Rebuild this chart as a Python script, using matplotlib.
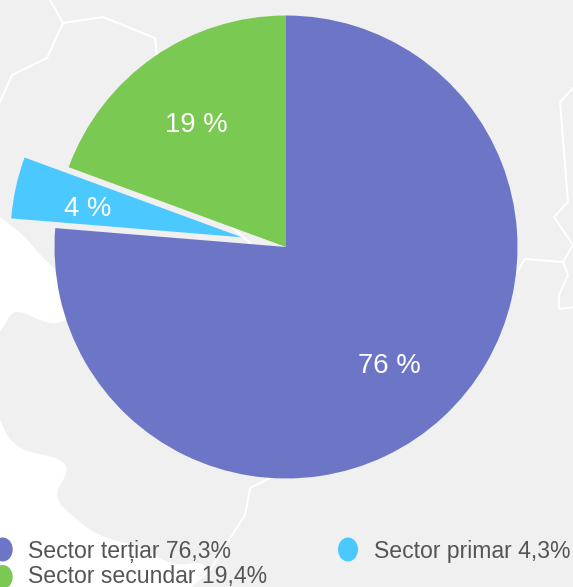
import matplotlib
matplotlib.use('Agg')
import matplotlib.pyplot as plt
from matplotlib.patches import Ellipse, PathPatch
from matplotlib.path import Path

labels = ['Sector terțiar 76,3%', 'Sector primar 4,3%', 'Sector secundar 19,4%']
values = [76.3, 4.3, 19.4]
pct_labels = ['76 %', '4 %', '19 %']
colors = ['#6d76c6', '#4bc9ff', '#7ac952']

W, H = 573, 587
CX, CY, R = 286, 247, 231.5

plt.rcParams['font.family'] = ['Liberation Sans', 'DejaVu Sans']

# background map, in image pixels
coast = [(-8, 211), (12, 226), (25, 237), (36, 250), (50, 265), (75, 285), (90, 300), (75, 316), (62, 322),
         (50, 324), (35, 318), (20, 311), (10, 314), (5, 325), (-6, 340), (-6, 405), (5, 432),
         (12, 442), (27, 452), (60, 458), (70, 470), (52, 497), (77, 520), (100, 537),
         (143, 547), (167, 563), (183, 565), (200, 562), (208, 568)]
borders = [
    [(50, 0), (63, 23), (103, 17), (155, 38), (157, 55)],
    [(63, 23), (47, 58), (12, 75), (0, 102)],
    [(573, 88), (560, 102), (568, 202), (554, 217), (573, 245), (563, 262), (525, 259), (517, 272)],
    [(563, 262), (568, 275), (559, 295), (559, 309), (573, 307)],
    [(270, 478), (250, 488), (245, 515), (210, 570), (190, 587)],
    [(232, 227), (250, 243)],
]


def coast_path(points):
    # smooth the shoreline with quadratic pieces through the midpoints
    verts = [points[0]]
    codes = [Path.MOVETO]
    for a, b in zip(points[:-1], points[1:]):
        verts += [a, ((a[0] + b[0]) / 2, (a[1] + b[1]) / 2)]
        codes += [Path.CURVE3, Path.CURVE3]
    for p in [points[-1], (190, H), (W, H), (W, 0), (-8, 0), points[0]]:
        verts.append(p)
        codes.append(Path.LINETO)
    return Path(verts, codes)


fig = plt.figure(figsize=(W / 100, H / 100), dpi=100)

bg = fig.add_axes([0, 0, 1, 1])
bg.set_xlim(0, W)
bg.set_ylim(H, 0)
bg.axis('off')
bg.add_patch(PathPatch(coast_path(coast), facecolor='#f0f0f0', edgecolor='none'))
for line in borders:
    bg.plot([p[0] for p in line], [p[1] for p in line], color='white', lw=1.4, solid_joinstyle='miter')

ax = fig.add_axes([0, 0, 1, 1], facecolor='none')
wedges, _ = ax.pie(values, colors=colors, startangle=90, counterclock=False,
                   explode=[0, 0.195, 0], radius=1, frame=False)
ax.set_aspect('equal')
ax.set_xlim(-CX / R, (W - CX) / R)
ax.set_ylim((CY - H) / R, CY / R)

# legend and labels go on top, in pixels, so the dots can run off the edge like the original
leg = fig.add_axes([0, 0, 1, 1], facecolor='none')
leg.set_xlim(0, W)
leg.set_ylim(H, 0)
leg.axis('off')
leg.text(389.5, 373, pct_labels[0], color='white', fontsize=19.8, ha='center', va='baseline')
leg.text(88, 216, pct_labels[1], color='white', fontsize=19.8, ha='center', va='baseline')
leg.text(196.5, 132.5, pct_labels[2], color='white', fontsize=19.8, ha='center', va='baseline')

for (x, y, tx, base), lab, c in zip([(2.7, 549.5, 28, 558), (348, 549.5, 374, 558), (2.7, 577, 28, 583.5)],
                                    labels, colors):
    leg.add_patch(Ellipse((x, y), 20, 24, facecolor=c, edgecolor='none'))
    leg.text(tx, base, lab, color='#555555', fontsize=16.6, ha='left', va='baseline')

fig.savefig('out.png', dpi=100)
